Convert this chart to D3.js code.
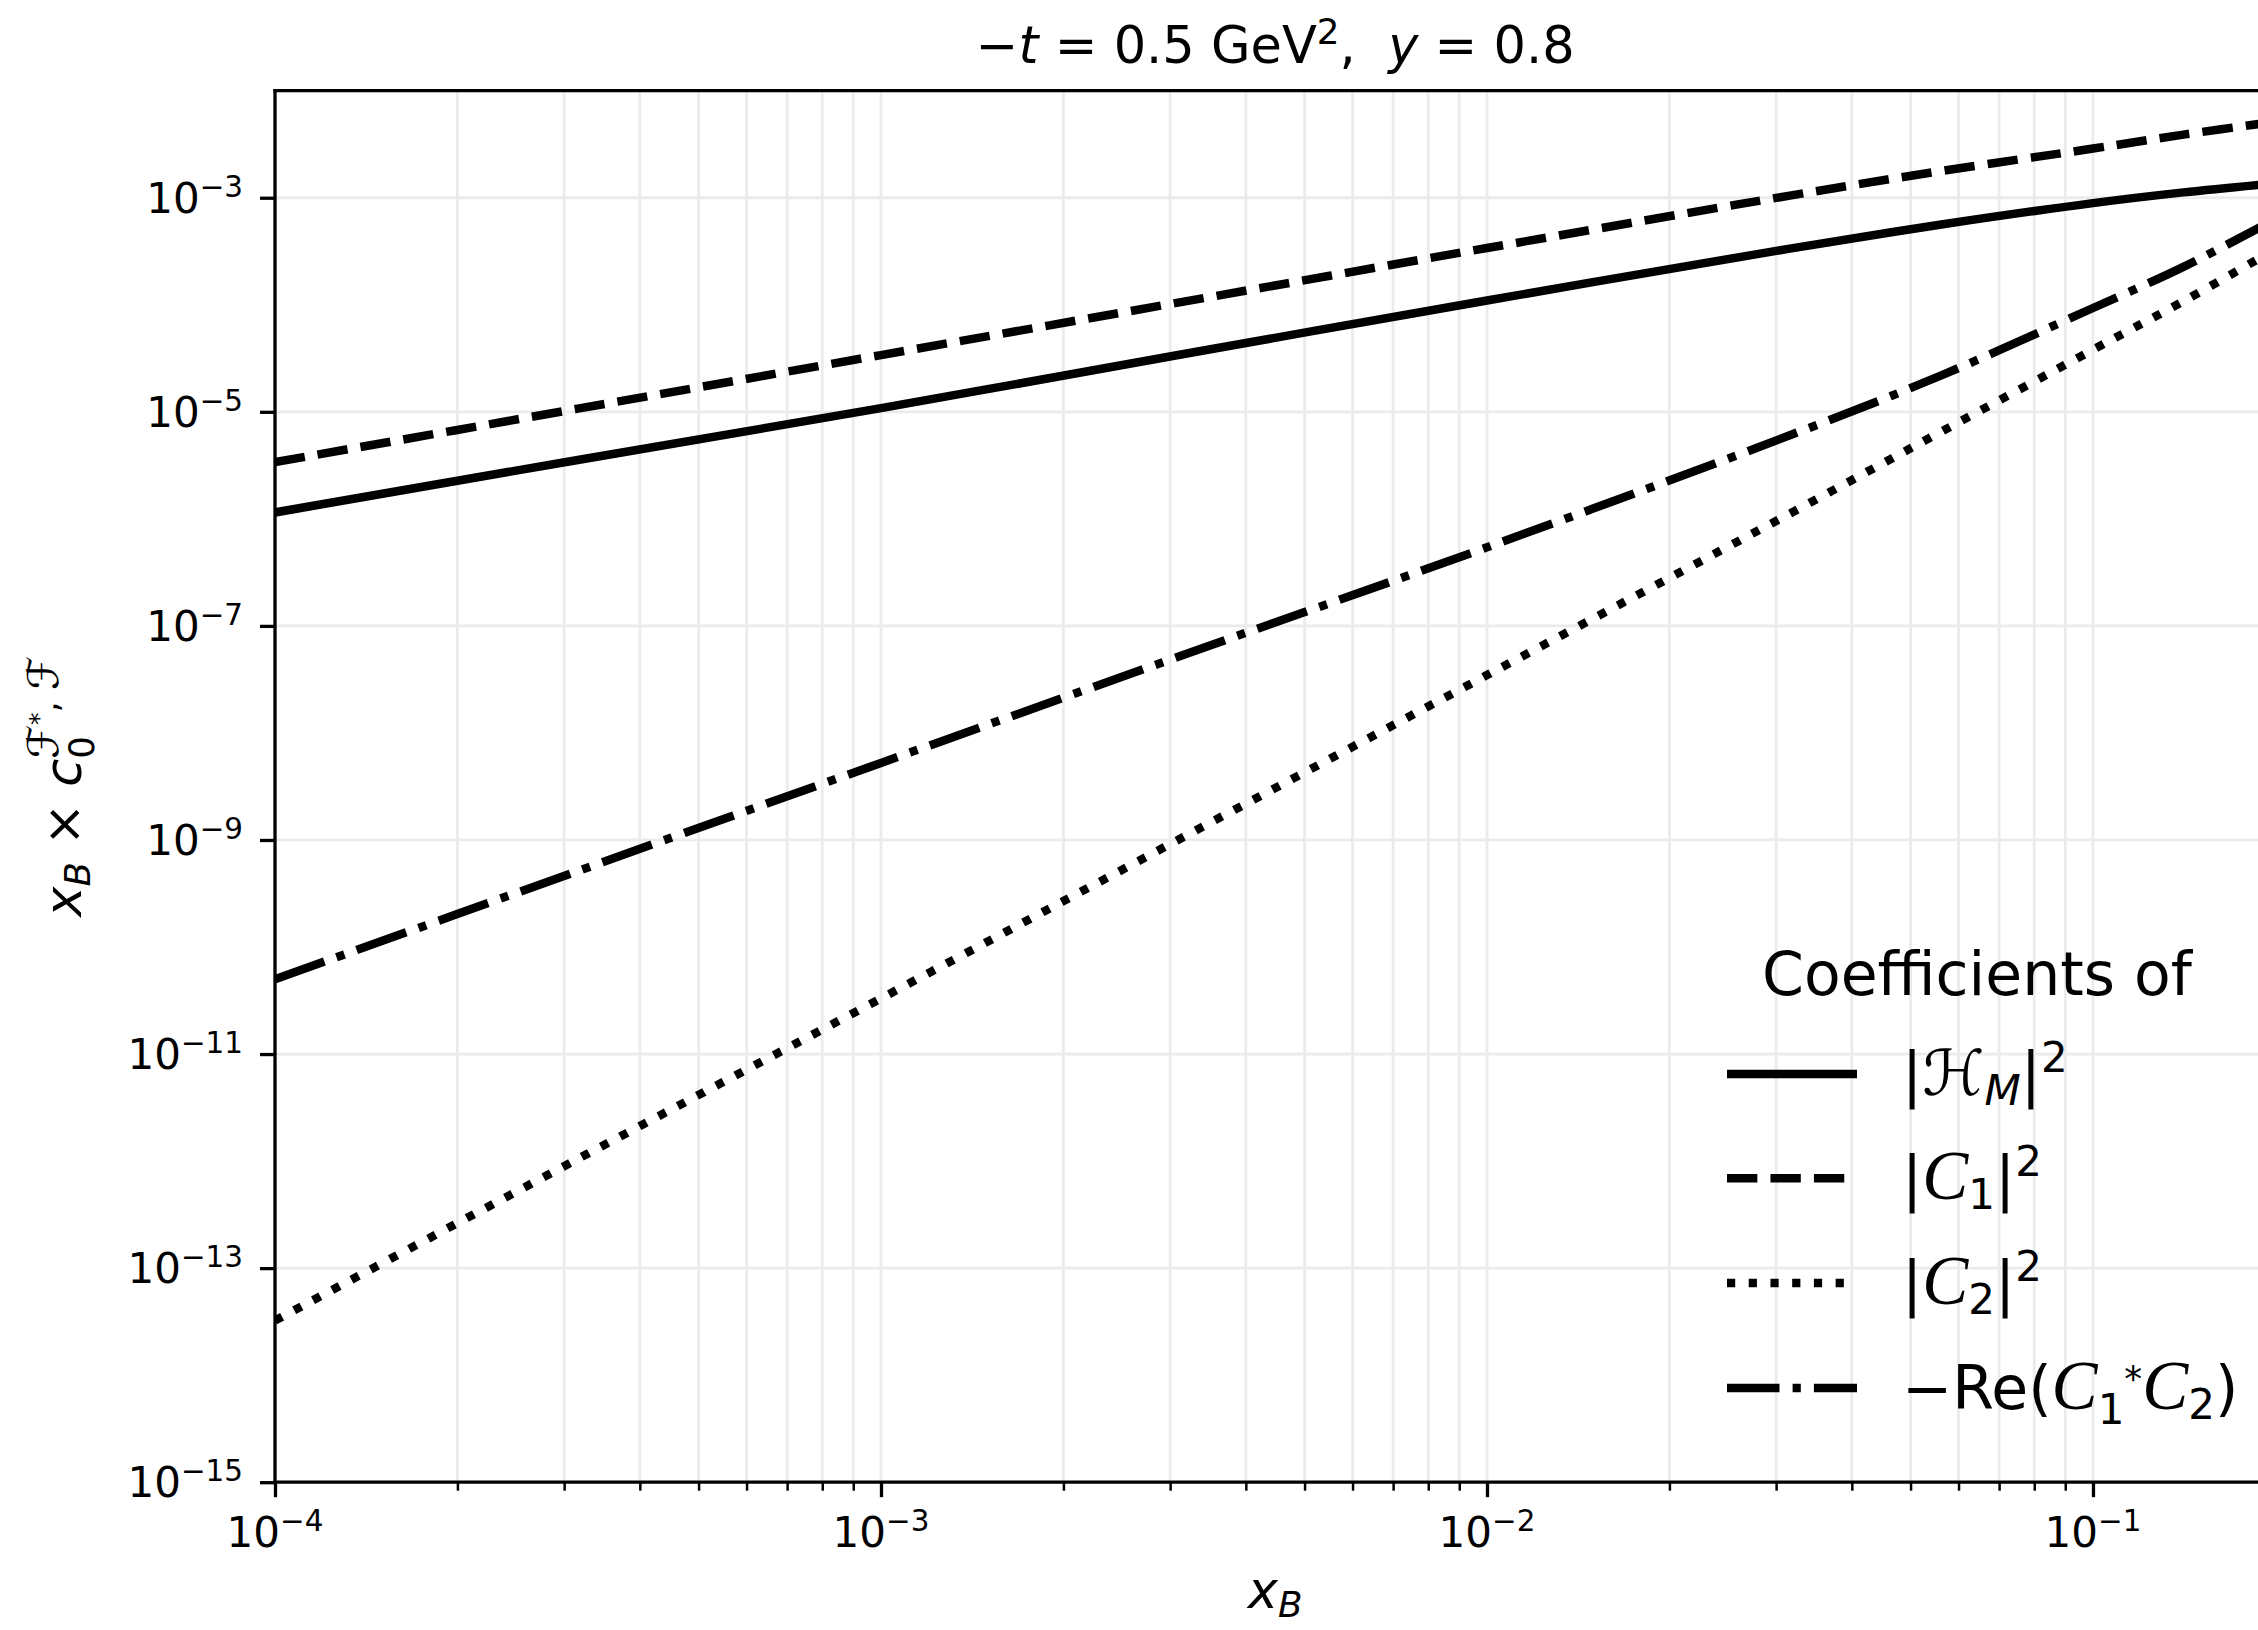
<!DOCTYPE html>
<html>
<head>
<meta charset="utf-8">
<script src="https://cdn.jsdelivr.net/npm/d3@7"></script>
<style>
  html, body { margin: 0; padding: 0; background: #fff; }
  svg { display: block; }
  text { font-family: "DejaVu Sans", sans-serif; fill: #000; white-space: pre; }
</style>
</head>
<body>
<script>
// ---------------- data ----------------
const xB = [1e-4, 3.16e-4, 1e-3, 3.16e-3, 1e-2, 3.16e-2, 5.62e-2, 1e-1, 1.41e-1, 2e-1];
const coefHM  = [1.148e-6, 3.55e-6, 1.084e-5, 3.47e-5, 1.096e-4, 3.35e-4, 5.62e-4, 8.91e-4, 1.122e-3, 1.365e-3];
const coefC1  = [3.39e-6, 1.07e-5, 3.39e-5, 1.07e-4, 3.39e-4, 1.047e-3, 1.778e-3, 2.88e-3, 3.89e-3, 5.13e-3];
const coefC2  = [3.24e-14, 1.047e-12, 3.31e-11, 1.07e-9, 3.47e-8, 1.12e-6, 6.53e-6, 3.80e-5, 1.08e-4, 3.31e-4];
const coefReC = [5.0e-11, 5.13e-10, 5.25e-9, 5.37e-8, 5.43e-7, 6.03e-6, 2.19e-5, 9.33e-5, 2.26e-4, 6.31e-4];

const xMajorTicks = [1e-4, 1e-3, 1e-2, 1e-1];
const xTickExp = ["\u22124", "\u22123", "\u22122", "\u22121"];
const xMinorMult = [2, 3, 4, 5, 6, 7, 8, 9];
const yMajorTicks = [1e-3, 1e-5, 1e-7, 1e-9, 1e-11, 1e-13, 1e-15];
const yTickExp = ["\u22123", "\u22125", "\u22127", "\u22129", "\u221211", "\u221213", "\u221215"];

const seriesNames = ["HM", "C1", "C2", "ReC1C2"];

// ---------------- layout ----------------
const W = 2258, H = 1630;
const pL = 275, pR = 2275.4, pT = 90.7, pB = 1482.2;
const LW = 8.5, DS = 8.2;
const styles = {
  HM: "none",
  C1: [3.7 * DS, 1.6 * DS].join(","),
  C2: [1 * DS, 1.65 * DS].join(","),
  ReC1C2: [6.4 * DS, 1.6 * DS, 1 * DS, 1.6 * DS].join(",")
};
const seriesData = { HM: coefHM, C1: coefC1, C2: coefC2, ReC1C2: coefReC };

const x = d3.scaleLog().domain([1e-4, 0.2]).range([pL, pR]);
const y = d3.scaleLog().domain([1e-15, 1e-2]).range([pB, pT]);

const svg = d3.select("body").append("svg").attr("width", W).attr("height", H);

svg.append("defs").append("clipPath").attr("id", "plotclip")
  .append("rect").attr("x", pL).attr("y", pT).attr("width", pR - pL).attr("height", pB - pT);

// minor x ticks
const xMinorTicks = [];
xMajorTicks.forEach(d => xMinorMult.forEach(m => { const v = d * m; if (v <= 0.2 + 1e-12) xMinorTicks.push(v); }));

// ---------------- grid ----------------
const grid = svg.append("g").attr("clip-path", "url(#plotclip)");
grid.selectAll("line.vg").data(xMajorTicks.concat(xMinorTicks)).join("line")
  .attr("x1", d => x(d)).attr("x2", d => x(d)).attr("y1", pT).attr("y2", pB)
  .attr("stroke", "#ebebeb").attr("stroke-width", 2.8);
grid.selectAll("line.hg").data(yMajorTicks).join("line")
  .attr("y1", d => y(d)).attr("y2", d => y(d)).attr("x1", pL).attr("x2", pR)
  .attr("stroke", "#ebebeb").attr("stroke-width", 2.8);

// ---------------- curves ----------------
const line = d3.line().x(d => x(d[0])).y(d => y(d[1])).curve(d3.curveCatmullRom.alpha(0.5));
const curves = svg.append("g").attr("clip-path", "url(#plotclip)");
seriesNames.forEach(name => {
  const pts = xB.map((xv, i) => [xv, seriesData[name][i]]);
  curves.append("path").datum(pts).attr("d", line)
    .attr("fill", "none").attr("stroke", "#000").attr("stroke-width", LW)
    .attr("stroke-dasharray", styles[name]).attr("stroke-linecap", "butt").attr("stroke-linejoin", "round");
});

// ---------------- axes ----------------
const xAxisMajor = d3.axisBottom(x).tickValues(xMajorTicks).tickSize(15).tickSizeOuter(0).tickFormat("");
const xAxisMinor = d3.axisBottom(x).tickValues(xMinorTicks).tickSize(8.5).tickSizeOuter(0).tickFormat("");
const yAxisMajor = d3.axisLeft(y).tickValues(yMajorTicks).tickSize(15).tickSizeOuter(0).tickFormat("");

const gxM = svg.append("g").attr("transform", `translate(0,${pB})`).call(xAxisMajor);
const gxm = svg.append("g").attr("transform", `translate(0,${pB})`).call(xAxisMinor);
const gyM = svg.append("g").attr("transform", `translate(${pL},0)`).call(yAxisMajor);
[gxM, gxm, gyM].forEach(g => g.select(".domain").remove());
gxM.selectAll(".tick line").attr("stroke", "#000").attr("stroke-width", 3.3);
gyM.selectAll(".tick line").attr("stroke", "#000").attr("stroke-width", 3.3);
gxm.selectAll(".tick line").attr("stroke", "#000").attr("stroke-width", 2.5);

// spines
const sp = svg.append("g").attr("stroke", "#000").attr("stroke-width", 3.3).attr("stroke-linecap", "square");
sp.append("line").attr("x1", pL).attr("x2", pR).attr("y1", pT).attr("y2", pT);
sp.append("line").attr("x1", pL).attr("x2", pR).attr("y1", pB).attr("y2", pB);
sp.append("line").attr("x1", pL).attr("x2", pL).attr("y1", pT).attr("y2", pB);
sp.append("line").attr("x1", pR).attr("x2", pR).attr("y1", pT).attr("y2", pB);

// ---------------- rich text helper ----------------
const CAL = "'Liberation Serif', 'DejaVu Serif', serif";
function rich(parent, parts, fs) {
  const text = parent.append("text").attr("font-size", fs);
  let cur = 0, prev = null;
  parts.forEach(p => {
    let off = 0, size = fs;
    if (p.s === "sub") { off = 0.17 * fs; size = 0.7 * fs; }
    else if (p.s === "subl") { off = 0.26 * fs; size = 0.7 * fs; }
    else if (p.s === "sup") { off = -0.38 * fs; size = 0.7 * fs; }
    else if (p.s === "supl") { off = -0.46 * fs; size = 0.7 * fs; }
    else if (p.s === "star") { off = -0.3 * fs; size = 0.7 * fs; }
    else if (p.s === "supsup") { off = -0.46 * fs - 0.2 * fs; size = 0.49 * fs; }
    if (p.scale) size *= p.scale;
    const ts = text.append("tspan").text(p.t).attr("font-size", size).attr("dy", off - cur);
    cur = off;
    if (p.it) ts.attr("font-style", "italic");
    if (p.cal) ts.attr("font-family", p.calFont || CAL).attr("font-style", "italic");
    if (p.back && prev) ts.attr("dx", -prev.node().getComputedTextLength());
    if (p.dx) ts.attr("dx", p.dx);
    prev = ts;
  });
  return text;
}

// tick labels
xMajorTicks.forEach((v, i) => {
  rich(svg, [{ t: "10" }, { t: xTickExp[i], s: "sup" }], 42)
    .attr("x", x(v)).attr("y", 1547).attr("text-anchor", "middle");
});
yMajorTicks.forEach((v, i) => {
  rich(svg, [{ t: "10" }, { t: yTickExp[i], s: "sup" }], 42)
    .attr("x", 243).attr("y", y(v) + 15).attr("text-anchor", "end");
});

// title
rich(svg, [
  { t: "\u2212" }, { t: "t", it: true }, { t: " = 0.5 GeV" }, { t: "2", s: "sup" },
  { t: ",  " }, { t: "y", it: true }, { t: " = 0.8" }
], 51).attr("x", (pL + pR) / 2).attr("y", 63).attr("text-anchor", "middle");

// x label
rich(svg, [{ t: "x", it: true }, { t: "B", it: true, s: "sub" }], 51)
  .attr("x", (pL + pR) / 2).attr("y", 1608).attr("text-anchor", "middle");

// y label
const yl = svg.append("g").attr("transform", `translate(81,${(pT + pB) / 2}) rotate(-90)`);
rich(yl, [
  { t: "x", it: true }, { t: "B", it: true, s: "sub" }, { t: " \u00d7 " },
  { t: "c", it: true }, { t: "0", s: "subl" },
  { t: "\u2131", s: "supl", back: true, calFont: "'DejaVu Sans'", cal: true, scale: 1.2 }, { t: "*", s: "supsup" }, { t: ", ", s: "supl" },
  { t: "\u2131", s: "supl", cal: true, calFont: "'DejaVu Sans'", scale: 1.2 }
], 51).attr("x", 0).attr("y", 0).attr("text-anchor", "middle");

// ---------------- legend ----------------
const leg = svg.append("g");
leg.append("text").attr("x", 1977).attr("y", 995).attr("font-size", 60).attr("text-anchor", "middle").text("Coefficients of");
const legRows = [1074, 1178.3, 1283, 1388];
const legLabels = [
  [{ t: "|" }, { t: "\u210B", cal: true, calFont: "'DejaVu Sans'", scale: 1.05 }, { t: "M", it: true, s: "sub" }, { t: "|" }, { t: "2", s: "sup" }],
  [{ t: "|" }, { t: "C", cal: true, scale: 1.15 }, { t: "1", s: "sub" }, { t: "|" }, { t: "2", s: "sup" }],
  [{ t: "|" }, { t: "C", cal: true, scale: 1.15 }, { t: "2", s: "sub" }, { t: "|" }, { t: "2", s: "sup" }],
  [{ t: "\u2212Re(" }, { t: "C", cal: true, scale: 1.15 }, { t: "1", s: "subl" }, { t: "*", s: "star", scale: 0.85 }, { t: "C", cal: true, scale: 1.15 }, { t: "2", s: "sub" }, { t: ")" }]
];
seriesNames.forEach((name, i) => {
  leg.append("line").attr("x1", 1727).attr("x2", 1857).attr("y1", legRows[i]).attr("y2", legRows[i])
    .attr("stroke", "#000").attr("stroke-width", LW).attr("stroke-dasharray", styles[name]).attr("stroke-linecap", "butt");
  rich(leg, legLabels[i], 60).attr("x", 1902).attr("y", legRows[i] + 20.5);
});
</script>
</body>
</html>
